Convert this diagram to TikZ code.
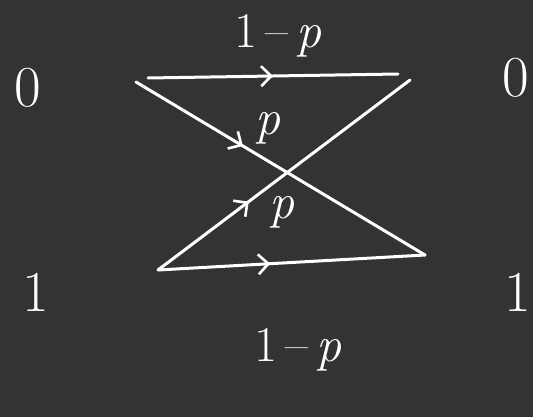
\documentclass[tikz,border=0pt]{standalone}
\usepackage{tikz}
\usetikzlibrary{arrows.meta,decorations.markings}
\definecolor{board}{HTML}{333333}
\tikzset{midarr/.style={postaction={decorate,decoration={markings,
    mark=at position #1 with {\arrow{Straight Barb[length=10pt,width=20pt,line width=2.6pt]}}}}}}

\begin{document}
\begin{tikzpicture}[x=1pt,y=-1pt,
    wire/.style={draw=white,line width=3pt,line cap=round},
    lbl/.style={text=white,font=\fontsize{58}{62}\selectfont,inner sep=0pt},
    prob/.style={text=white,font=\fontsize{50}{54}\selectfont,inner sep=0pt}]
  \fill[board] (0,0) rectangle (533,417);
  \useasboundingbox (0,0) rectangle (533,417);
  % inputs and outputs
  \node[lbl] (x0) at (28,88) {0};
  \node[lbl] (x1) at (36,292) {1};
  \node[lbl] (y0) at (516,78) {0};
  \node[lbl] (y1) at (518,292) {1};
  \coordinate (a0) at (148,78);
  \coordinate (a1) at (158,270);
  \coordinate (b0) at (398,74);
  \coordinate (b1) at (425,255);
  \coordinate (c0) at (136,82);
  \coordinate (d0) at (410,80);
  % channel edges
  \draw[wire,midarr=0.5] (a0) -- (b0);
  \draw[wire,midarr=0.42] (a1) -- (b1);
  \draw[wire,midarr=0.37] (c0) -- (b1);
  \draw[wire,midarr=0.36] (a1) -- (d0);
  % probabilities
  \node[prob] (p00) at (278,36) {1\,--\,\textit{p}};
  \node[prob] (p11) at (298,350) {1\,--\,\textit{p}};
  \node[prob] (p01) at (268,128) {\textit{p}};
  \node[prob] (p10) at (282,212) {\textit{p}};
\end{tikzpicture}
\end{document}
